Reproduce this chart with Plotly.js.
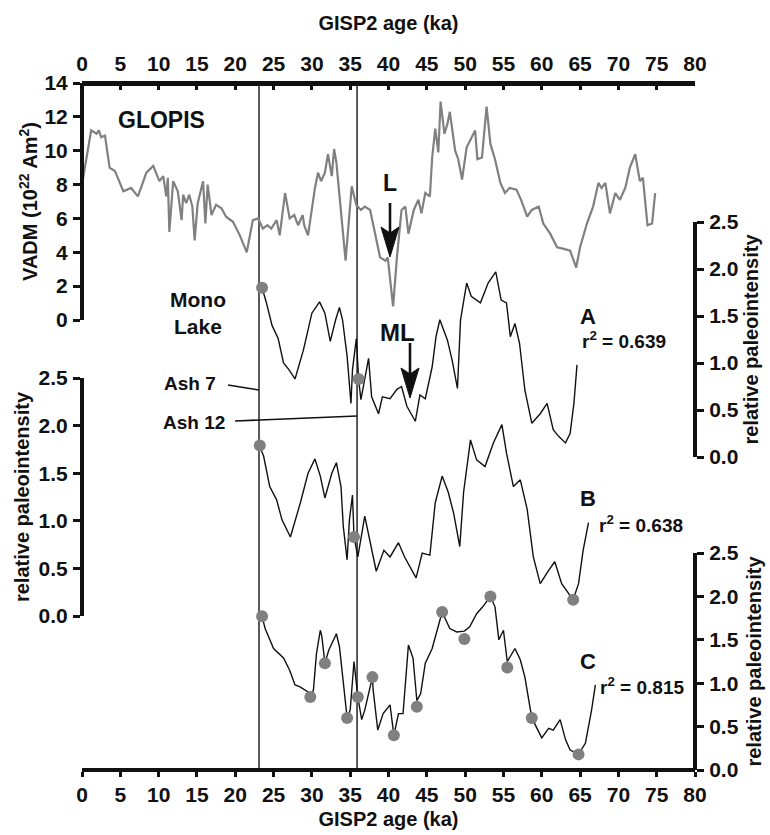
<!DOCTYPE html>
<html><head><meta charset="utf-8">
<script src="https://cdn.plot.ly/plotly-3.0.1.min.js"></script>
<style>html,body{margin:0;padding:0;background:#fff}#chart{width:770px;height:835px}</style>
</head><body><div id="chart"></div>
<script>
// ---------- data ----------
const xTicks = [0,5,10,15,20,25,30,35,40,45,50,55,60,65,70,75,80];
const ashAges = [23.1, 35.9];
const ashLabels = ['Ash 7', 'Ash 12'];

const glopisAge = [0,1.2,1.9,2.2,2.5,3.0,3.6,4.3,5.4,6.4,7.3,8.4,9.3,10.1,10.6,11.0,11.2,11.4,11.9,12.5,13.0,13.2,13.6,14.0,14.4,14.7,15.1,15.8,16.1,16.4,16.9,17.5,18.2,18.8,19.7,20.6,21.5,22.3,23.0,23.6,24.2,24.7,25.4,25.8,26.5,27.1,27.7,28.2,28.8,29.0,29.5,30.4,30.8,31.2,31.7,32.1,32.6,32.9,33.2,33.8,34.4,35.2,35.8,36.4,36.9,37.6,38.0,38.5,38.9,39.6,39.9,40.6,41.1,41.7,42.2,42.6,43.3,43.9,44.3,44.8,45.4,45.7,46.1,46.5,46.8,47.3,47.7,48.0,48.7,49.1,49.6,50.2,50.9,51.3,51.6,52.2,52.8,53.3,53.9,54.6,55.2,55.8,56.7,57.3,58.1,58.7,59.6,60.2,61.1,62.0,62.9,63.7,64.5,65.0,65.9,66.7,67.4,67.8,68.3,68.9,69.6,70.2,70.9,71.5,72.2,72.8,73.2,73.8,74.4,74.8];
const glopisVadm = [8.0,11.2,11.0,11.2,10.8,10.9,9.0,8.8,7.6,7.8,7.3,8.7,9.1,8.2,8.5,7.3,8.4,5.2,8.2,7.6,5.9,7.4,6.9,7.4,6.7,4.7,6.9,8.2,5.7,8.0,6.2,6.8,6.6,6.1,5.8,5.0,4.0,5.9,6.0,5.4,5.6,5.4,5.9,5.0,7.5,6.0,6.2,5.6,6.2,5.6,5.0,7.8,8.7,8.2,8.7,9.8,8.5,10.1,9.3,6.5,3.5,7.9,6.8,6.5,6.7,6.5,5.6,4.4,3.7,3.5,3.7,0.8,3.7,6.5,6.7,5.1,6.5,7.1,6.3,7.5,7.3,9.6,11.3,9.9,12.9,11.0,11.6,12.3,10.0,9.5,8.3,10.2,10.8,11.2,9.5,9.6,12.6,10.4,9.5,8.1,7.5,7.8,7.7,7.1,6.1,6.5,6.7,5.7,5.1,4.3,4.2,4.1,3.1,4.3,5.7,6.7,8.1,7.8,8.1,6.3,7.5,7.1,7.8,9.0,9.8,8.2,8.4,5.6,5.7,7.5];

const monoAAge = [23.5,24.1,24.8,25.6,26.3,27.0,27.8,28.9,30.0,31.0,31.7,32.4,33.1,33.6,34.0,34.6,35.1,35.3,35.8,36.1,36.4,37.0,37.4,37.8,38.7,39.2,40.2,41.1,41.7,42.4,43.5,44.1,44.8,45.7,46.2,46.7,47.7,48.3,49.0,49.4,50.2,50.8,52.0,53.0,54.0,54.7,55.4,55.9,56.5,57.1,57.8,58.7,59.8,60.7,61.5,62.2,63.1,63.7,64.2,64.6];
const monoAVal = [1.80,1.63,1.40,1.26,1.00,0.93,0.83,1.14,1.53,1.65,1.53,1.23,1.46,1.59,1.46,1.07,0.57,0.93,1.26,0.83,0.61,0.85,1.05,0.64,0.46,0.64,0.62,0.72,0.75,0.54,0.38,0.66,0.62,0.96,1.28,1.46,1.24,1.03,0.73,1.46,1.85,1.71,1.64,1.85,1.97,1.67,1.64,1.28,1.42,1.21,0.71,0.36,0.46,0.57,0.29,0.22,0.15,0.25,0.57,0.98];
const monoAMarkAge = [23.5, 36.1];
const monoAMarkVal = [1.80, 0.83];

const monoBAge = [23.1,23.7,24.5,25.4,26.1,27.2,28.5,29.5,30.4,31.1,31.7,32.6,33.2,33.8,34.1,34.6,34.9,35.3,35.5,36.0,36.9,37.6,38.4,39.4,40.2,41.3,42.1,43.6,44.4,45.4,46.1,47.0,47.8,48.5,49.3,49.8,50.7,51.5,52.6,53.7,54.8,55.4,56.3,57.2,58.1,58.9,59.8,60.9,61.7,62.6,63.5,64.1,64.8,65.4,66.1];
const monoBVal = [1.80,1.68,1.36,1.22,1.01,0.83,1.19,1.50,1.65,1.47,1.24,1.50,1.61,1.36,0.94,0.59,1.01,1.27,0.83,0.62,1.05,0.77,0.47,0.69,0.62,0.77,0.62,0.40,0.66,0.64,1.19,1.47,1.30,1.08,0.73,1.30,1.85,1.64,1.57,1.82,2.01,1.71,1.36,1.43,1.12,0.62,0.34,0.48,0.57,0.34,0.24,0.17,0.34,0.69,0.98];
const monoBMarkAge = [23.2, 35.5, 64.1];
const monoBMarkVal = [1.79, 0.83, 0.17];

const monoCAge = [23.5,23.9,25.0,26.3,27.1,27.8,28.4,29.5,29.8,30.2,30.6,31.1,31.3,31.7,32.2,33.2,33.6,34.1,34.6,35.0,35.5,36.0,36.5,36.9,37.4,37.9,38.0,38.6,39.3,40.2,40.7,41.3,41.9,42.6,43.2,43.7,44.2,44.8,45.7,46.3,47.0,48.0,48.9,49.9,50.6,51.5,52.3,53.3,53.9,54.4,55.0,55.5,56.5,57.2,57.8,58.7,60.0,60.9,61.5,62.4,63.1,63.7,64.8,65.7,66.5,67.0];
const monoCVal = [1.77,1.63,1.40,1.29,1.15,0.98,0.96,0.90,0.84,0.92,1.34,1.61,1.54,1.23,1.38,1.57,1.42,1.00,0.60,0.69,1.25,0.84,0.58,0.69,0.88,1.07,0.92,0.46,0.65,0.75,0.40,0.65,0.65,1.44,1.29,0.80,0.88,1.23,1.40,1.59,1.82,1.63,1.59,1.60,1.65,1.80,1.88,2.00,1.88,1.50,1.61,1.25,1.40,1.27,1.07,0.60,0.37,0.48,0.46,0.58,0.35,0.23,0.18,0.31,0.69,0.98];
const monoCMarkAge = [23.5,29.8,31.7,34.6,36.0,37.9,40.7,43.7,47.0,49.9,53.3,55.5,58.7,64.8];
const monoCMarkVal = [1.77,0.84,1.23,0.60,0.84,1.07,0.40,0.73,1.82,1.51,2.00,1.18,0.60,0.18];

const rSquared = {A: '0.639', B: '0.638', C: '0.815'};

// ---------- layout helpers ----------
const FONT = 'Liberation Sans, Arial, Helvetica, sans-serif';
const INK = '#111';
const L = 82, R = 75, T = 83, B = 65, W = 770, H = 835;
const PW = W - L - R, PH = H - T - B;
const fx = p => (p - L) / PW;          // pixel x -> paper
const fy = p => (H - B - p) / PH;      // pixel y -> paper

const tickFont = {family: FONT, size: 21, color: INK, weight: 'bold'};
const titleFont = {family: FONT, size: 20, color: INK, weight: 'bold'};

function yAxis(top, bottom, range, dtick, side, fmt, title, standoff) {
  return {
    domain: [fy(bottom), fy(top)], range: range, dtick: dtick, tick0: 0,
    anchor: 'free', position: side === 'left' ? 0 : 1, side: side,
    showline: true, linewidth: 4, linecolor: INK,
    ticks: 'outside', ticklen: 7, tickwidth: 3, tickcolor: INK,
    tickfont: tickFont, tickformat: fmt, ticklabelstandoff: 1,
    showgrid: false, zeroline: false, fixedrange: true,
    title: {text: title, font: titleFont, standoff: standoff}
  };
}

const line = (x, y, ya, color, w) => ({x: x, y: y, xaxis: 'x', yaxis: ya, type: 'scatter', mode: 'lines',
  line: {color: color, width: w}, hoverinfo: 'skip', showlegend: false});
const marks = (x, y, ya) => ({x: x, y: y, xaxis: 'x', yaxis: ya, type: 'scatter', mode: 'markers',
  marker: {color: '#808080', size: 12, line: {width: 0}}, hoverinfo: 'skip', showlegend: false, cliponaxis: false});

const traces = [
  line(glopisAge, glopisVadm, 'y', '#808080', 2.2),
  line(monoAAge, monoAVal, 'y2', INK, 1.4),
  line(monoBAge, monoBVal, 'y3', INK, 1.4),
  line(monoCAge, monoCVal, 'y4', INK, 1.4),
  marks(monoAMarkAge, monoAMarkVal, 'y2'),
  marks(monoBMarkAge, monoBMarkVal, 'y3'),
  marks(monoCMarkAge, monoCMarkVal, 'y4'),
  {x: [], y: [], xaxis: 'x2', yaxis: 'y', type: 'scatter', showlegend: false}
];

const xCommon = {
  range: [0, 80], tickvals: xTicks, ticktext: xTicks.map(String),
  showline: true, linecolor: INK, tickwidth: 3, tickcolor: INK,
  tickfont: tickFont, showgrid: false, zeroline: false, fixedrange: true, anchor: 'free'
};

const ann = (x, y, text, size, extra) => Object.assign({xref: 'paper', yref: 'paper', x: fx(x), y: fy(y),
  xanchor: 'center', yanchor: 'middle',
  text: text, showarrow: false, font: {family: FONT, size: size, color: INK}}, extra || {});

const annotations = [
  ann(161, 120, '<b>GLOPIS</b>', 23),
  ann(198, 313, '<b>Mono<br>Lake</b>', 21),
  ann(390, 183, '<b>L</b>', 23),
  ann(397, 332, '<b>ML</b>', 24),
  ann(588, 316, '<b>A</b>', 22),
  ann(580, 340, '<b>r<sup>2</sup> = ' + rSquared.A + '</b>', 19, {xanchor: 'left'}),
  ann(588, 498, '<b>B</b>', 22),
  ann(597, 524, '<b>r<sup>2</sup> = ' + rSquared.B + '</b>', 19, {xanchor: 'left'}),
  ann(588, 661, '<b>C</b>', 22),
  ann(598, 686, '<b>r<sup>2</sup> = ' + rSquared.C + '</b>', 19, {xanchor: 'left'}),
  ann(190, 384, '<b>' + ashLabels[0] + '</b>', 19),
  ann(194, 422, '<b>' + ashLabels[1] + '</b>', 19)
];

const shapes = ashAges.map(a => ({type: 'line', xref: 'x', yref: 'paper', x0: a, x1: a, y0: 0, y1: 1,
  line: {color: '#333', width: 1.6}, layer: 'below'}));
const seg = (x0, y0, x1, y1, w) => ({type: 'line', xref: 'paper', yref: 'paper',
  x0: fx(x0), y0: fy(y0), x1: fx(x1), y1: fy(y1), line: {color: INK, width: w}});
shapes.push(seg(228, 385, 259, 390, 1.6));
shapes.push(seg(235, 421, 357, 416, 1.6));
// arrows: shaft + notched head
function arrowShapes(x, yTail, yTip) {
  const back = yTip - 30, notch = yTip - 24, hw = 9;
  const p = `M ${fx(x)} ${fy(yTip)} L ${fx(x - hw)} ${fy(back)} L ${fx(x)} ${fy(notch)} L ${fx(x + hw)} ${fy(back)} Z`;
  return [seg(x, yTail, x, notch + 2, 2.6),
          {type: 'path', xref: 'paper', yref: 'paper', path: p, fillcolor: INK, line: {color: INK, width: 1}}];
}
shapes.push(...arrowShapes(390, 203, 257));
shapes.push(...arrowShapes(410, 343, 398));

const layout = {
  width: W, height: H, margin: {l: L, r: R, t: T, b: B, pad: 0},
  paper_bgcolor: '#fff', plot_bgcolor: 'rgba(0,0,0,0)',
  font: {family: FONT, color: INK},
  showlegend: false,
  xaxis: Object.assign({}, xCommon, {position: 0, side: 'bottom', linewidth: 4, ticks: 'outside', ticklen: 5, ticklabelstandoff: 0,
    title: {text: '<b>GISP2 age (ka)</b>', font: titleFont, standoff: 6}}),
  xaxis2: Object.assign({}, xCommon, {overlaying: 'x', position: 1, side: 'top', linewidth: 5, ticks: 'inside', ticklen: 4, ticklabelstandoff: 2,
    title: {text: '<b>GISP2 age (ka)</b>', font: titleFont, standoff: 14}}),
  yaxis: yAxis(83, 320, [0, 14], 2, 'left', 'd', '<b>VADM (10<sup>22</sup> Am<sup>2</sup>)</b>', 0),
  yaxis2: yAxis(222, 457, [0, 2.5], 0.5, 'right', '.1f', '<b>relative paleointensity</b>', 5),
  yaxis3: yAxis(378, 616, [0, 2.5], 0.5, 'left', '.1f', '<b>relative paleointensity</b>', 3),
  yaxis4: yAxis(553, 770, [0, 2.5], 0.5, 'right', '.1f', '<b>relative paleointensity</b>', 8),
  annotations: annotations,
  shapes: shapes
};

Plotly.newPlot('chart', traces, layout, {displayModeBar: false, staticPlot: true});
</script>
</body></html>
